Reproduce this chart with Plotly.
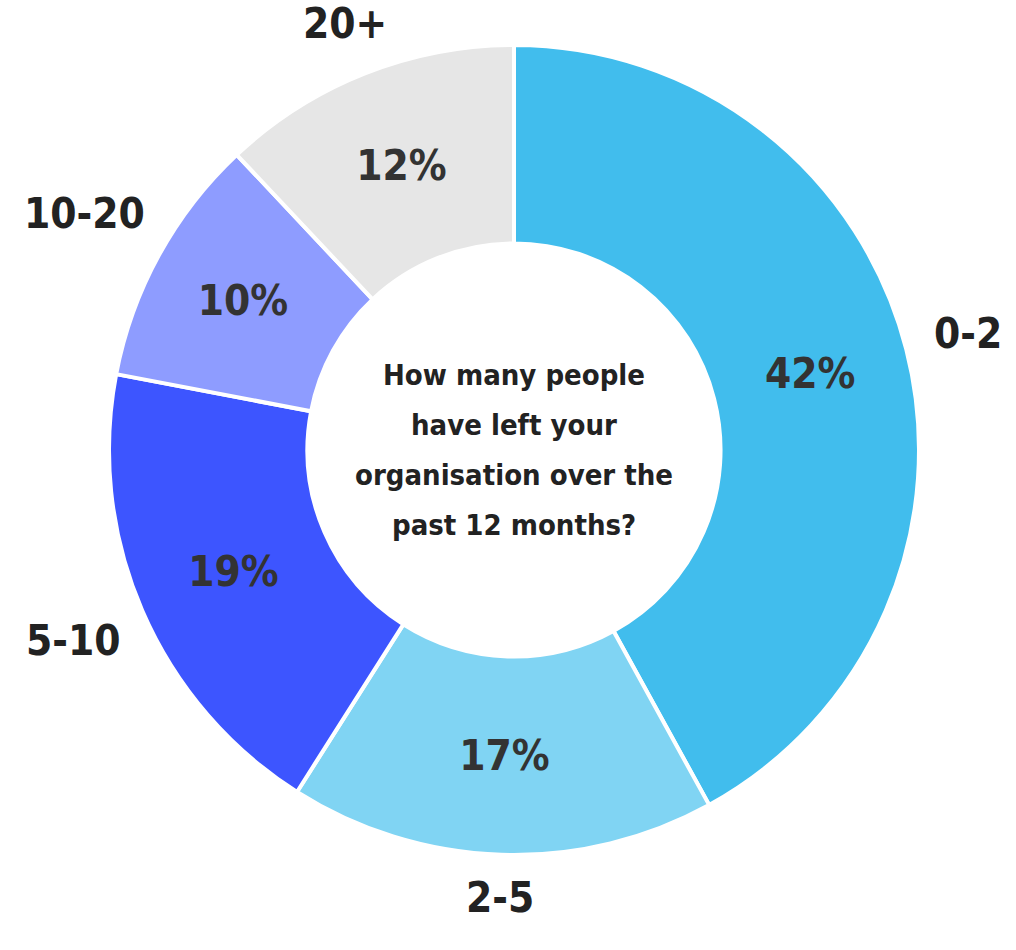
import math
import plotly.graph_objects as go

categories = ["0-2", "2-5", "5-10", "10-20", "20+"]
shares = [42, 17, 19, 10, 12]
colors = ["#41BDED", "#80D4F3", "#3D55FF", "#8E9CFF", "#E6E6E6"]
question_lines = ["How many people", "have left your", "organisation over the", "past 12 months?"]

FONT = "DejaVu Sans Condensed, sans-serif"
TEXT = "#333333"
LABEL_SIZE = 42

W, H = 1016, 950
ML, MR, MT, MB = 109, 97, 45, 95
plot_w = W - ML - MR
plot_h = H - MT - MB
radius_px = min(plot_w, plot_h) / 2

fig = go.Figure(
    go.Pie(
        labels=categories,
        values=shares,
        sort=False,
        direction="clockwise",
        rotation=0,
        hole=0.51,
        marker=dict(colors=colors, line=dict(color="white", width=4)),
        texttemplate="<b>%{value}%</b>",
        textposition="inside",
        insidetextorientation="horizontal",
        textfont=dict(family=FONT, size=42, color=TEXT),
        hoverinfo="label+percent",
        showlegend=False,
    )
)

# Category names outside the ring, centred along each slice's mid-angle
annotations = []
total = sum(shares)
cum = 0
gap_px = 26
for cat, v in zip(categories, shares):
    mid = (cum + v / 2) / total * 2 * math.pi
    cum += v
    dx, dy = math.sin(mid), math.cos(mid)
    half_w = len(cat) * 0.28 * LABEL_SIZE
    half_h = 0.365 * LABEL_SIZE
    r = radius_px + gap_px + abs(dx) * half_w + abs(dy) * half_h
    x = 0.5 + r * dx / plot_w
    y = 0.5 + r * dy / plot_h
    annotations.append(dict(
        x=x, y=y, xref="paper", yref="paper", text=f"<b>{cat}</b>",
        showarrow=False, xanchor="center", yanchor="middle",
        font=dict(family=FONT, size=LABEL_SIZE, color="#222222"),
    ))

# Question in the hole, one annotation per line for wider line spacing
line_step = 50
n = len(question_lines)
for i, line in enumerate(question_lines):
    offset = ((n - 1) / 2 - i) * line_step
    annotations.append(dict(
        x=0.5, y=0.5 + offset / plot_h, xref="paper", yref="paper",
        text=f"<b>{line}</b>", showarrow=False, xanchor="center", yanchor="middle",
        font=dict(family=FONT, size=29, color="#222222"),
    ))

fig.update_layout(
    width=W, height=H,
    margin=dict(l=ML, r=MR, t=MT, b=MB),
    paper_bgcolor="white", plot_bgcolor="white",
    annotations=annotations,
)

fig.write_html("out.html")
